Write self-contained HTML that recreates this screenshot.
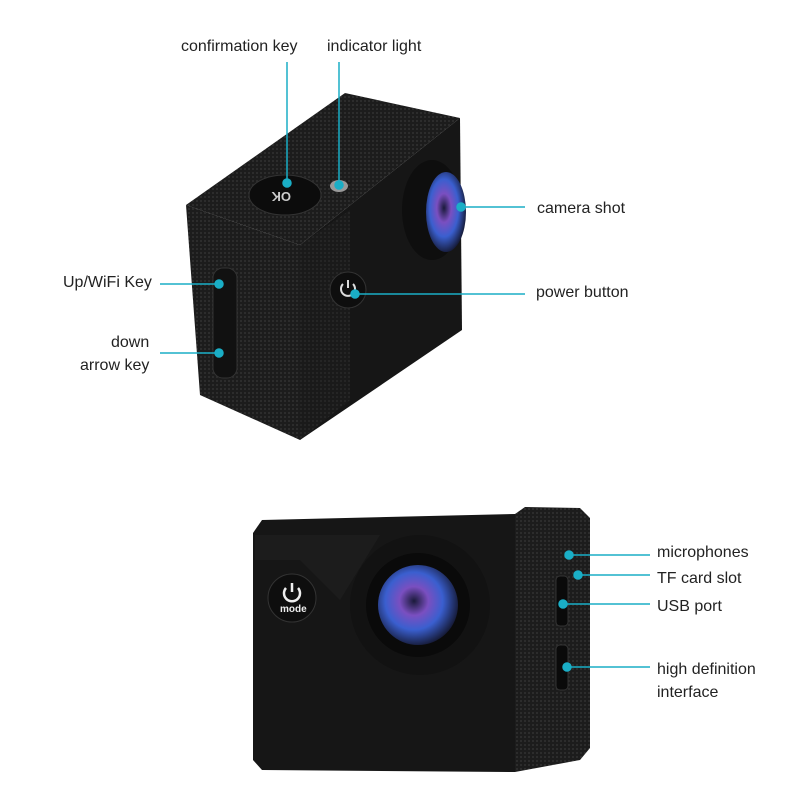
<!DOCTYPE html>
<html><head><meta charset="utf-8"><style>
body{margin:0;background:#fff}
svg{display:block}
text{font-family:"Liberation Sans",sans-serif;font-size:16px;fill:#222}
</style></head><body>
<svg width="800" height="800" viewBox="0 0 800 800">
<defs>
<pattern id="tex" width="4" height="4" patternUnits="userSpaceOnUse"><rect width="4" height="4" fill="#1c1c1c"/><rect width="2" height="2" fill="#2c2c2c"/></pattern>
<radialGradient id="lens" cx="0.45" cy="0.45" r="0.6"><stop offset="0" stop-color="#1a1a3a"/><stop offset="0.3" stop-color="#7a4fc0"/><stop offset="0.6" stop-color="#3a5fcf"/><stop offset="1" stop-color="#101020"/></radialGradient>
</defs>
<polygon points="186,205 345,93 460,118 300,245" fill="url(#tex)"/>
<polygon points="186,205 300,245 300,440 200,395" fill="url(#tex)"/>
<polygon points="300,245 460,118 462,330 300,440" fill="#161616"/>
<polygon points="300,245 350,210 350,400 300,440" fill="url(#tex)" opacity="0.7"/>
<ellipse cx="285" cy="195" rx="36" ry="20" fill="#0c0c0c" stroke="#333"/>
<text x="271" y="202" style="font-size:13px;fill:#ccc;font-weight:bold" transform="rotate(180 281 197)">OK</text>
<ellipse cx="339" cy="186" rx="9" ry="6" fill="#999"/>
<ellipse cx="432" cy="210" rx="30" ry="50" fill="#0e0e0e"/>
<ellipse cx="446" cy="212" rx="20" ry="40" fill="url(#lens)"/>
<circle cx="348" cy="290" r="18" fill="#0e0e0e" stroke="#333"/>
<path d="M343,284 a7,7 0 1 0 10,0 M348,280 v8" stroke="#ddd" stroke-width="2" fill="none"/>
<rect x="213" y="268" width="24" height="110" rx="10" fill="#111" stroke="#333"/>
<polygon points="253,533 262,520 515,514 515,772 262,770 253,760" fill="#161616"/>
<polygon points="515,514 525,507 580,508 590,518 590,748 580,760 515,772" fill="url(#tex)"/>
<path d="M255,535 H380 L340,600 L300,560 L255,560Z" fill="#1c1c1c"/>
<circle cx="420" cy="605" r="70" fill="#121212"/>
<circle cx="418" cy="605" r="52" fill="#0a0a0a"/>
<circle cx="418" cy="605" r="40" fill="url(#lens)"/>
<circle cx="292" cy="598" r="24" fill="#0e0e0e" stroke="#333"/>
<path d="M286,588 a8,8 0 1 0 12,0 M292,583 v9" stroke="#eee" stroke-width="2.5" fill="none"/>
<text x="280" y="612" style="font-size:10px;fill:#eee;font-weight:bold">mode</text>
<rect x="556" y="576" width="12" height="50" rx="4" fill="#0a0a0a" stroke="#333"/>
<rect x="556" y="645" width="12" height="45" rx="4" fill="#0a0a0a" stroke="#333"/>
<g stroke="#1aaec6" stroke-width="1.5" fill="#1aaec6">
<line x1="287" y1="62" x2="287" y2="183"/><circle cx="287" cy="183" r="4"/>
<line x1="339" y1="62" x2="339" y2="185"/><circle cx="339" cy="185" r="4"/>
<line x1="461" y1="207" x2="525" y2="207"/><circle cx="461" cy="207" r="4"/>
<line x1="355" y1="294" x2="525" y2="294"/><circle cx="355" cy="294" r="4"/>
<line x1="160" y1="284" x2="219" y2="284"/><circle cx="219" cy="284" r="4"/>
<line x1="160" y1="353" x2="219" y2="353"/><circle cx="219" cy="353" r="4"/>
<line x1="569" y1="555" x2="650" y2="555"/><circle cx="569" cy="555" r="4"/>
<line x1="578" y1="575" x2="650" y2="575"/><circle cx="578" cy="575" r="4"/>
<line x1="563" y1="604" x2="650" y2="604"/><circle cx="563" cy="604" r="4"/>
<line x1="567" y1="667" x2="650" y2="667"/><circle cx="567" cy="667" r="4"/>
</g>
<text x="181" y="51">confirmation key</text>
<text x="327" y="51">indicator light</text>
<text x="537" y="213">camera shot</text>
<text x="536" y="297">power button</text>
<text x="63" y="287">Up/WiFi Key</text>
<text x="111" y="347">down</text>
<text x="80" y="370">arrow key</text>
<text x="657" y="557">microphones</text>
<text x="657" y="583">TF card slot</text>
<text x="657" y="611">USB port</text>
<text x="657" y="674">high definition</text>
<text x="657" y="697">interface</text>
</svg>
</body></html>
